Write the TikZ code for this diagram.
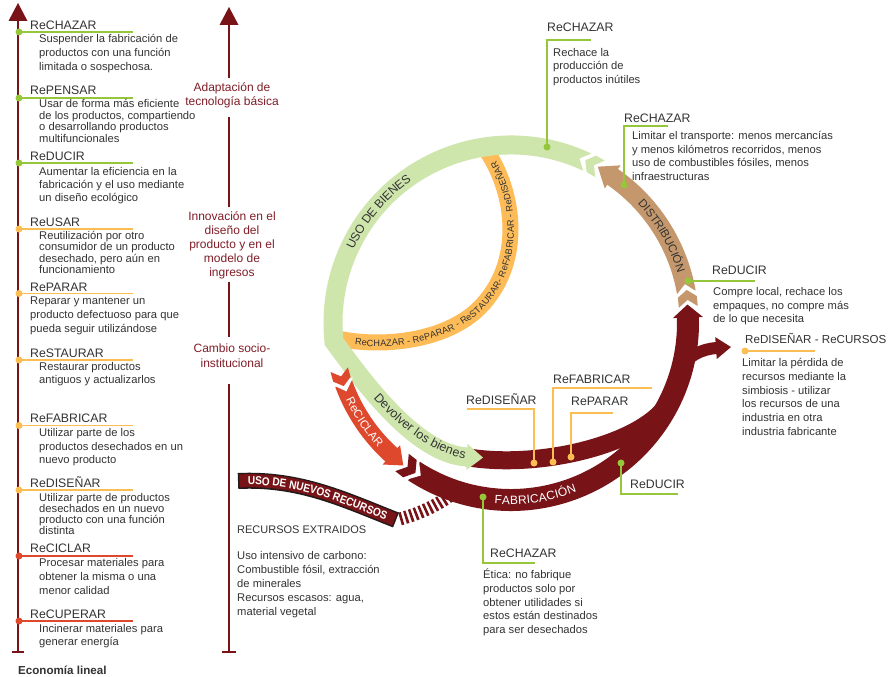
\documentclass[tikz,border=0pt]{standalone}
\usepackage{fontspec}
\setmainfont{Liberation Sans}
\newfontfamily\condfont[FakeStretch=0.88]{Liberation Sans}
\usetikzlibrary{decorations.text}
\definecolor{dred}{RGB}{120,20,24}
\definecolor{lred}{RGB}{222,72,45}
\definecolor{lgreen}{RGB}{206,229,172}
\definecolor{lime}{RGB}{150,198,58}
\definecolor{gold}{RGB}{252,190,82}
\definecolor{tanb}{RGB}{196,152,108}
\definecolor{obg}{RGB}{253,188,88}
\definecolor{txt}{RGB}{51,51,51}
\definecolor{labred}{RGB}{128,30,40}
\definecolor{ink}{RGB}{35,25,25}
\begin{document}
\begin{tikzpicture}[x=1pt,y=-1pt,
 hd/.style={font=\fontsize{12.3}{14}\selectfont, text=txt, anchor=base west, inner sep=0pt},
 desc/.style={font=\fontsize{11.2}{#1}\selectfont, text=txt, anchor=base west, inner sep=0pt, align=left},
 lab/.style={font=\fontsize{12}{#1}\selectfont, text=labred, align=center, inner sep=0pt},
 ann/.style={line width=1.8pt},
 dotn/.style={circle, inner sep=0pt, minimum size=7pt},
 vline/.style={draw=dred, line width=2.4pt}]
\useasboundingbox (0,0) rectangle (889,677);
\fill[white] (0,0) rectangle (889,677);

% ---------- left axis ----------
\coordinate (latop) at (18,20);
\coordinate (labot) at (18,652);
\draw[vline] (latop) -- (labot);
\fill[dred] (18,3) -- (27.5,21) -- (8.5,21) -- cycle;
\draw[dred, line width=2pt] (12,652) -- (24,652);

% ---------- middle axis ----------
\fill[dred] (229,7) -- (238.5,25) -- (219.5,25) -- cycle;
\node[lab=14.5] (lb1) at (232,95.5) {Adaptación de\\tecnología básica};
\node[lab=14] (lb2) at (232,245) {Innovación en el\\diseño del\\producto y en el\\modelo de\\ingresos};
\node[lab=15] (lb3) at (232,355.5) {Cambio socio-\\institucional};
\draw[vline] (229,24) -- (229,78);
\draw[vline] (229,117) -- (229,207);
\draw[vline] (229,282) -- (229,337);
\draw[vline] (229,384) -- (229,652);
\draw[dred, line width=2pt] (222,652) -- (236,652);

% ---------- left entries (desc anchored at baseline of last line) ----------
\draw[lime, ann] (19,32) -- (133,32);
\node[dotn, fill=lime] (p1) at (19,32) {};
\node[hd] (h1) at (30,29.5) {ReCHAZAR};
\node[desc=14] (t1) at (39,70.5) {Suspender la fabricación de\\productos con una función\\limitada o sospechosa.};

\draw[lime, ann] (19,98) -- (133,98);
\node[dotn, fill=lime] (p2) at (19,98) {};
\node[hd] (h2) at (30,94.5) {RePENSAR};
\node[desc=11.7] (t2) at (39,142.6) {Usar de forma más eficiente\\de los productos, compartiendo\\o desarrollando productos\\multifuncionales};

\draw[lime, ann] (19,163) -- (133,163);
\node[dotn, fill=lime] (p3) at (19,163) {};
\node[hd] (h3) at (30,160.5) {ReDUCIR};
\node[desc=13] (t3) at (39,201.5) {Aumentar la eficiencia en la\\fabricación y el uso mediante\\un diseño ecológico};

\draw[gold, ann] (19,229) -- (133,229);
\node[dotn, fill=gold] (p4) at (19,229) {};
\node[hd] (h4) at (30,226.5) {ReUSAR};
\node[desc=11.3] (t4) at (39,273.4) {Reutilización por otro\\consumidor de un producto\\desechado, pero aún en\\funcionamiento};

\draw[gold, ann] (19,293.5) -- (133,293.5);
\node[dotn, fill=gold] (p5) at (19,293.5) {};
\node[hd] (h5) at (30,291) {RePARAR};
\node[desc=14] (t5) at (30,332.5) {Reparar y mantener un\\producto defectuoso para que\\pueda seguir utilizándose};

\draw[gold, ann] (19,360) -- (133,360);
\node[dotn, fill=gold] (p6) at (19,360) {};
\node[hd] (h6) at (30,357.5) {ReSTAURAR};
\node[desc=13] (t6) at (39,383.5) {Restaurar productos\\antiguos y actualizarlos};

\draw[gold, ann] (19,425.5) -- (133,425.5);
\node[dotn, fill=gold] (p7) at (19,425.5) {};
\node[hd] (h7) at (30,422.5) {ReFABRICAR};
\node[desc=13.5] (t7) at (39,463.5) {Utilizar parte de los\\productos desechados en un\\nuevo producto};

\draw[gold, ann] (19,490) -- (133,490);
\node[dotn, fill=gold] (p8) at (19,490) {};
\node[hd] (h8) at (30,487.5) {ReDISEÑAR};
\node[desc=11] (t8) at (39,534.5) {Utilizar parte de productos\\desechados en un nuevo\\producto con una función\\distinta};

\draw[lred, ann] (19,556) -- (133,556);
\node[dotn, fill=lred] (p9) at (19,556) {};
\node[hd] (h9) at (30,552.5) {ReCICLAR};
\node[desc=14] (t9) at (39,594.5) {Procesar materiales para\\obtener la misma o una\\menor calidad};

\draw[lred, ann] (19,621) -- (133,621);
\node[dotn, fill=lred] (p10) at (19,621) {};
\node[hd] (h10) at (30,618.5) {ReCUPERAR};
\node[desc=13] (t10) at (39,645.5) {Incinerar materiales para\\generar energía};

\node[anchor=base west, inner sep=0pt, text=txt, font=\fontsize{11.6}{14}\selectfont\bfseries] (econ) at (18,674) {Economía lineal};

% ---------- resources text ----------
\node[anchor=base west, inner sep=0pt, text=txt, font=\fontsize{11}{14}\selectfont] (rext) at (237,533) {RECURSOS EXTRAIDOS};
\node[desc=14] (rdesc) at (237,615.5) {Uso intensivo de carbono:\\Combustible fósil, extracción\\de minerales\\Recursos escasos: agua,\\material vegetal};

% ---------- new resources band ----------
\draw[dred, line width=13pt, dash pattern=on 2.6pt off 2.6pt] (400,519) .. controls (418,514) and (437,506) .. (452,494);
\draw[ink, line width=16pt] (238,481) .. controls (300,478) and (345,500) .. (396,520);
\draw[dred, line width=13pt, shorten <=1.5pt, shorten >=1.5pt] (238,481) .. controls (300,478) and (345,500) .. (396,520);
\path[decorate, decoration={text along path, text={|\condfont\bfseries\fontsize{11.5}{12}\selectfont|USO DE NUEVOS RECURSOS}, text align=center, raise=-4.1pt, text color=white}] (238,481) .. controls (300,478) and (345,500) .. (396,520);

% ---------- circle ----------
\begin{scope}[shift={(511,323)}]
 % orange inner band
 \draw[obg, line width=16pt] (-176,15) .. controls (-131,25) and (-71,19) .. (-36,-11) .. controls (11,-53) and (7,-123) .. (-23,-170);
 % fabrication bands
 \draw[dred, line width=22pt] (123.2:177) arc[start angle=123.2, end angle=-2.1, radius=177];
 \draw[dred, line width=18pt] (-45,134) .. controls (29,147) and (139.3,120.1) .. (25:177);
 \draw[dred, line width=12pt] (166,50) .. controls (176,33) and (190,26) .. (206,25);
 \begin{scope}[shift={(-2.1:177)}, rotate=92.1] \fill[dred] (-1,-15) -- (12,0) -- (-1,15) -- cycle; \end{scope}
 \begin{scope}[shift={(206,25)}, rotate=4] \fill[dred] (-1,-11) -- (14,0) -- (-1,11) -- cycle; \end{scope}
 \begin{scope}[shift={(123.2:177)}, rotate=-33.2] \fill[white] (-3,-13) -- (8,0) -- (-3,13) -- cycle; \end{scope}
 \begin{scope}[shift={(128:177)}, rotate=-38] \fill[dred] (0,11) -- (7,0) -- (0,-11) -- (10,-11) -- (17,0) -- (10,11) -- cycle; \end{scope}
 % green band
 \draw[lgreen, line width=19pt] (-64.8:178) arc[start angle=-64.8, end angle=-186, radius=178] .. controls (-150,55) and (-96,132) .. (-43,134);
 \begin{scope}[shift={(-43,134)}, rotate=-2.2] \fill[lgreen] (-1,-13) -- (15,0) -- (-1,13) -- cycle; \end{scope}
 \begin{scope}[shift={(-64.8:178)}, rotate=154.8] \fill[white] (-3,-12) -- (8,0) -- (-3,12) -- cycle; \end{scope}
 \begin{scope}[shift={(-60:178)}, rotate=150] \fill[lgreen] (0,9.5) -- (7,0) -- (0,-9.5) -- (10,-9.5) -- (17,0) -- (10,9.5) -- cycle; \end{scope}
 % brown band
 \draw[tanb, line width=19pt] (-55.5:178) arc[start angle=-55.5, end angle=-10, radius=178];
 \begin{scope}[shift={(-55.5:178)}, rotate=145.5] \fill[tanb] (-1,-14) -- (17,0) -- (-1,14) -- cycle; \end{scope}
 \begin{scope}[shift={(-10:178)}, rotate=100] \fill[white] (-3,-12) -- (8,0) -- (-3,12) -- cycle; \end{scope}
 \begin{scope}[shift={(-5.2:178)}, rotate=95.2] \fill[tanb] (0,9.5) -- (7,0) -- (0,-9.5) -- (10,-9.5) -- (17,0) -- (10,9.5) -- cycle; \end{scope}
 % recycling band
 \draw[lred, line width=18pt] (160:178) arc[start angle=160, end angle=131.9, radius=178];
 \begin{scope}[shift={(131.9:178)}, rotate=-41.9] \fill[lred] (-1,-13) -- (15,0) -- (-1,13) -- cycle; \end{scope}
 \begin{scope}[shift={(160:178)}, rotate=-70] \fill[white] (-3,-11) -- (8,0) -- (-3,11) -- cycle; \end{scope}
 \begin{scope}[shift={(164.8:178)}, rotate=-74.8] \fill[lred] (0,9) -- (7,0) -- (0,-9) -- (10,-9) -- (17,0) -- (10,9) -- cycle; \end{scope}
 % texts along bands
 \path[decorate, decoration={text along path, text={|\fontsize{12}{12}\selectfont|USO DE BIENES}, text align=center, raise=-4.3pt, text color=txt}] (-165:178) arc[start angle=-165, end angle=-115, radius=178];
 \path[decorate, decoration={text along path, text={|\fontsize{11.5}{12}\selectfont|DISTRIBUCIÓN}, text align=center, raise=-4.1pt, text color=txt}] (-50:178) arc[start angle=-50, end angle=-10, radius=178];
 \path[decorate, decoration={text along path, text={|\fontsize{11.5}{12}\selectfont|ReCICLAR}, text align=center, raise=-4.1pt, text color=white}] (158:178) arc[start angle=158, end angle=134, radius=178];
 \path[decorate, decoration={text along path, text={|\fontsize{12}{12}\selectfont|FABRICACIÓN}, text align=center, raise=-4.3pt, text color=white}] (100:177) arc[start angle=100, end angle=64, radius=177];
 \path[decorate, decoration={text along path, text={|\fontsize{12.5}{12}\selectfont|Devolver los bienes}, text align=center, raise=-3.8pt, text color=txt}] (-146.2,59.2) .. controls (-117.7,94.5) and (-76,133) .. (-28,134.5);
 \path[decorate, decoration={text along path, text={|\fontsize{9.2}{10}\selectfont|ReCHAZAR - RePARAR - ReSTAURAR- ReFABRICAR - ReDISEÑAR}, text align=center, raise=-3.3pt, text color=txt}] (-164,17.5) .. controls (-125,24) and (-71,19) .. (-36,-11) .. controls (11,-53) and (7,-123) .. (-22,-168);
\end{scope}

% ---------- circle annotations ----------
\draw[lime, ann] (547,147) -- (547,40) -- (591,40);
\node[dotn, fill=lime] (c1) at (547,147) {};
\node[hd] (ch1) at (547,31.5) {ReCHAZAR};
\node[desc=13.5] (cd1) at (553,83.5) {Rechace la\\producción de\\productos inútiles};

\draw[lime, ann] (624,185) -- (624,126) -- (668,126);
\node[dotn, fill=lime] (c2) at (624,185) {};
\node[hd] (ch2) at (624,122.5) {ReCHAZAR};
\node[desc=13.7] (cd2) at (632,180.6) {Limitar el transporte: menos mercancías\\y menos kilómetros recorridos, menos\\uso de combustibles fósiles, menos\\infraestructuras};

\draw[lime, ann] (688,281) -- (755,281);
\node[dotn, fill=lime] (c3) at (688,281) {};
\node[hd] (ch3) at (712,274.5) {ReDUCIR};
\node[desc=13.5] (cd3) at (713,322.5) {Compre local, rechace los\\empaques, no compre más\\de lo que necesita};

\draw[gold, ann] (745,351) -- (815,351);
\node[dotn, fill=gold] (c4) at (745,351) {};
\node[hd, font=\fontsize{11.6}{14}\selectfont] (ch4) at (745,343.5) {ReDISEÑAR - ReCURSOS};
\node[desc=13.8] (cd4) at (742,435.5) {Limitar la pérdida de\\recursos mediante la\\simbiosis - utilizar\\los recursos de una\\industria en otra\\industria fabricante};

\draw[gold, ann] (534,463) -- (534,409) -- (467,409);
\node[dotn, fill=gold] (c5) at (534,463) {};
\node[hd] (ch5) at (466,404.5) {ReDISEÑAR};

\draw[gold, ann] (553,462) -- (553,388) -- (652,388);
\node[dotn, fill=gold] (c6) at (553,462) {};
\node[hd] (ch6) at (553,383.5) {ReFABRICAR};

\draw[gold, ann] (571,457) -- (571,413) -- (613,413);
\node[dotn, fill=gold] (c7) at (571,457) {};
\node[hd] (ch7) at (571,405.5) {RePARAR};

\draw[lime, ann] (621,463) -- (621,494) -- (678,494);
\node[dotn, fill=lime] (c8) at (621,463) {};
\node[hd] (ch8) at (630,488.5) {ReDUCIR};

\draw[lime, ann] (483,497) -- (483,563) -- (535,563);
\node[dotn, fill=lime] (c9) at (483,497) {};
\node[hd] (ch9) at (490,557.5) {ReCHAZAR};
\node[desc=13.8] (cd9) at (483,633.7) {Ética: no fabrique\\productos solo por\\obtener utilidades si\\estos están destinados\\para ser desechados};
\end{tikzpicture}
\end{document}
